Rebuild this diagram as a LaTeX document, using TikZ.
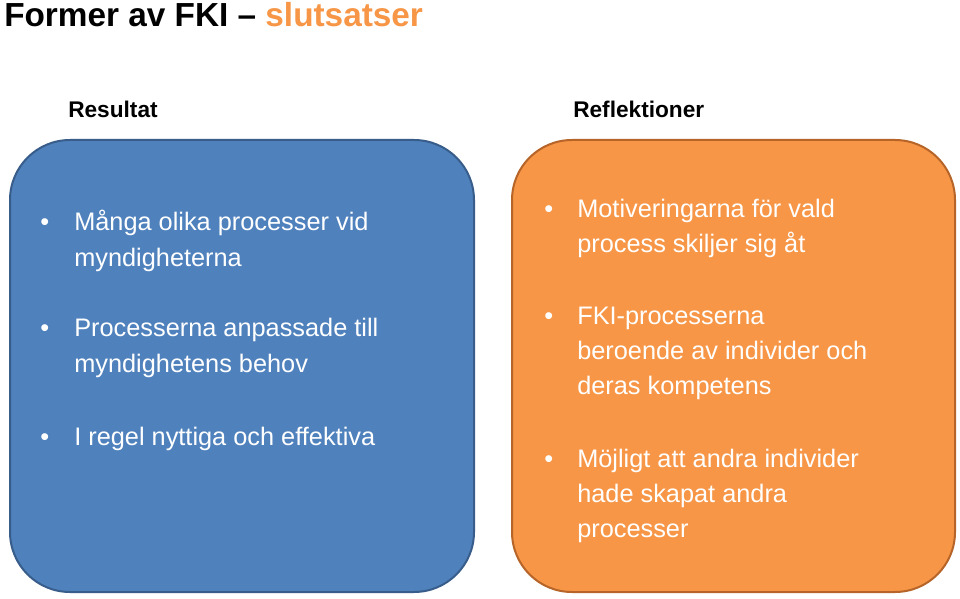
\documentclass[tikz,border=0pt]{standalone}
\usepackage{fontspec}
\setmainfont{Liberation Sans}
\usetikzlibrary{positioning}
\definecolor{boxblue}{RGB}{79,129,189}
\definecolor{blueedge}{RGB}{56,93,138}
\definecolor{boxorange}{RGB}{247,150,70}
\definecolor{orangeedge}{RGB}{182,100,40}
\tikzset{
  pane/.style={rounded corners=45pt, line width=1.5pt},
  heading/.style={anchor=base west, inner sep=0, font=\fontsize{17}{20}\selectfont\bfseries},
  point/.style={anchor=base west, inner sep=0, text=white, font=\fontsize{19}{23}\selectfont},
  dot/.style={anchor=base west, inner sep=0, text=white, font=\fontsize{19}{23}\selectfont}
}
\begin{document}
\begin{tikzpicture}[x=0.75pt,y=-0.75pt]
  \useasboundingbox[fill=white] (0,0) rectangle (960,599);
  % title
  \node[anchor=base west, inner sep=0, font=\fontsize{25}{28}\selectfont\bfseries] (title) at (4,27)
    {Former av FKI -- \textcolor{boxorange}{slutsatser}};
  \node[heading] (res) at (68,118) {Resultat};
  \node[heading] (refl) at (573,118) {Reflektioner};
  % boxes
  \draw[pane, fill=boxblue, draw=blueedge] (10,140) rectangle (474,592);
  \draw[pane, fill=boxorange, draw=orangeedge] (512,140) rectangle (955,592);
  % left points
  \foreach \y/\t in {230/Många olika processer vid, 266/myndigheterna,
      336/Processerna anpassade till, 372/myndighetens behov,
      445/I regel nyttiga och effektiva}
    \node[point] at (74,\y) {\t};
  \foreach \y in {230,336,445}
    \node[dot] at (40,\y) {•};
  % right points
  \foreach \y/\t in {217/Motiveringarna för vald, 252/process skiljer sig åt,
      324/FKI-processerna, 359/beroende av individer och, 394/deras kompetens,
      467/Möjligt att andra individer, 502/hade skapat andra, 537/processer}
    \node[point] at (577,\y) {\t};
  \foreach \y in {217,324,467}
    \node[dot] at (544,\y) {•};
\end{tikzpicture}
\end{document}
